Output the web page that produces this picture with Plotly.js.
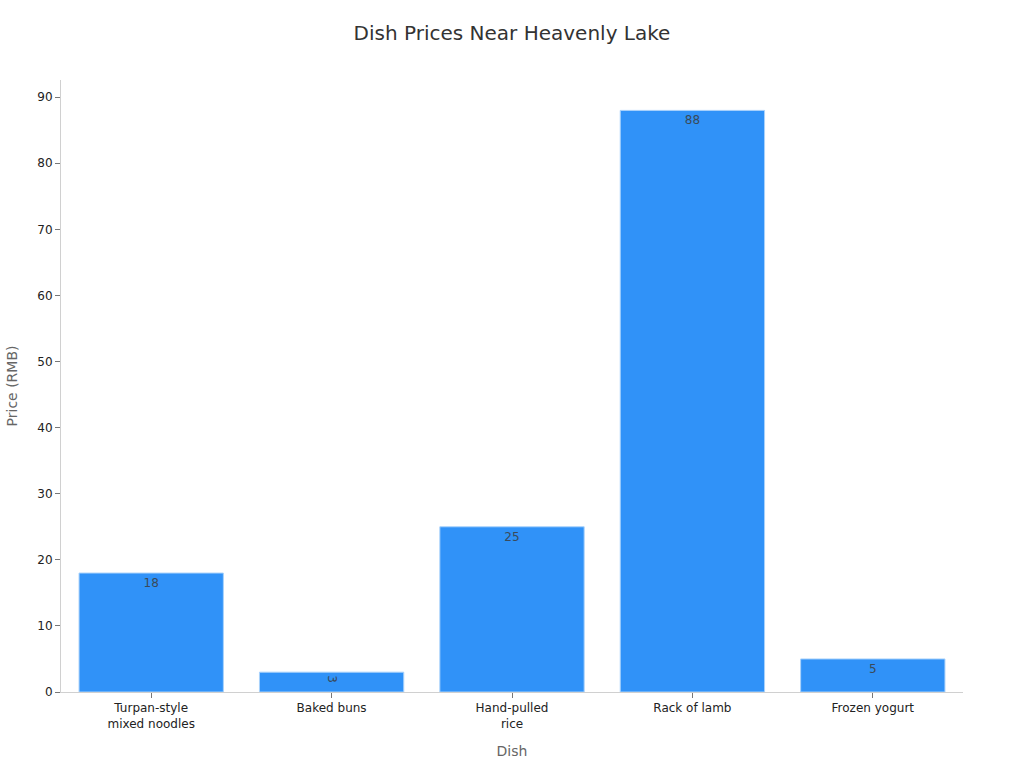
<!DOCTYPE html>
<html>
<head>
<meta charset="utf-8">
<script src="https://cdn.plot.ly/plotly-3.0.1.min.js"></script>
<style>
  html, body { margin: 0; padding: 0; background: #fff; }
  #chart { width: 1024px; height: 768px; }
</style>
</head>
<body>
<div id="chart"></div>
<script>
// Dish names and prices (RMB)
const dishes = ['Turpan-style<br>mixed noodles', 'Baked buns', 'Hand-pulled<br>rice', 'Rack of lamb', 'Frozen yogurt'];
const prices = [18, 3, 25, 88, 5];

const data = [{
    type: 'bar',
    x: dishes,
    y: prices,
    text: prices.map(String),
    textposition: 'inside',
    insidetextanchor: 'end',
    textfont: { family: 'DejaVu Sans', size: 12, color: '#3a4a5a' },
    marker: {
        color: '#3092f8',
        line: { color: '#a9d2fb', width: 1 }
    },
    hoverinfo: 'x+y'
}];

const layout = {
    width: 1024,
    height: 768,
    font: { family: 'DejaVu Sans', size: 12, color: '#333' },
    title: {
        text: 'Dish Prices Near Heavenly Lake',
        font: { size: 20, color: '#333' },
        x: 0.5,
        y: 0.957,
        yanchor: 'middle'
    },
    margin: { l: 61, r: 61, t: 80, b: 76 },
    bargap: 0.2,
    showlegend: false,
    paper_bgcolor: '#fff',
    plot_bgcolor: '#fff',
    xaxis: {
        title: { text: 'Dish', font: { size: 14, color: '#666' }, standoff: 16 },
        showline: true,
        linecolor: '#d0d0d0',
        ticks: 'outside',
        tickcolor: '#777',
        ticklen: 5,
        showgrid: false,
        tickfont: { size: 12, color: '#222' }
    },
    yaxis: {
        title: { text: 'Price (RMB)', font: { size: 14, color: '#666' }, standoff: 16 },
        range: [0, 92.6],
        dtick: 10,
        showline: true,
        linecolor: '#d0d0d0',
        ticks: 'outside',
        tickcolor: '#777',
        ticklen: 5,
        showgrid: false,
        zeroline: false,
        tickfont: { size: 12, color: '#222' }
    }
};

Plotly.newPlot('chart', data, layout, { displayModeBar: false });
</script>
</body>
</html>
